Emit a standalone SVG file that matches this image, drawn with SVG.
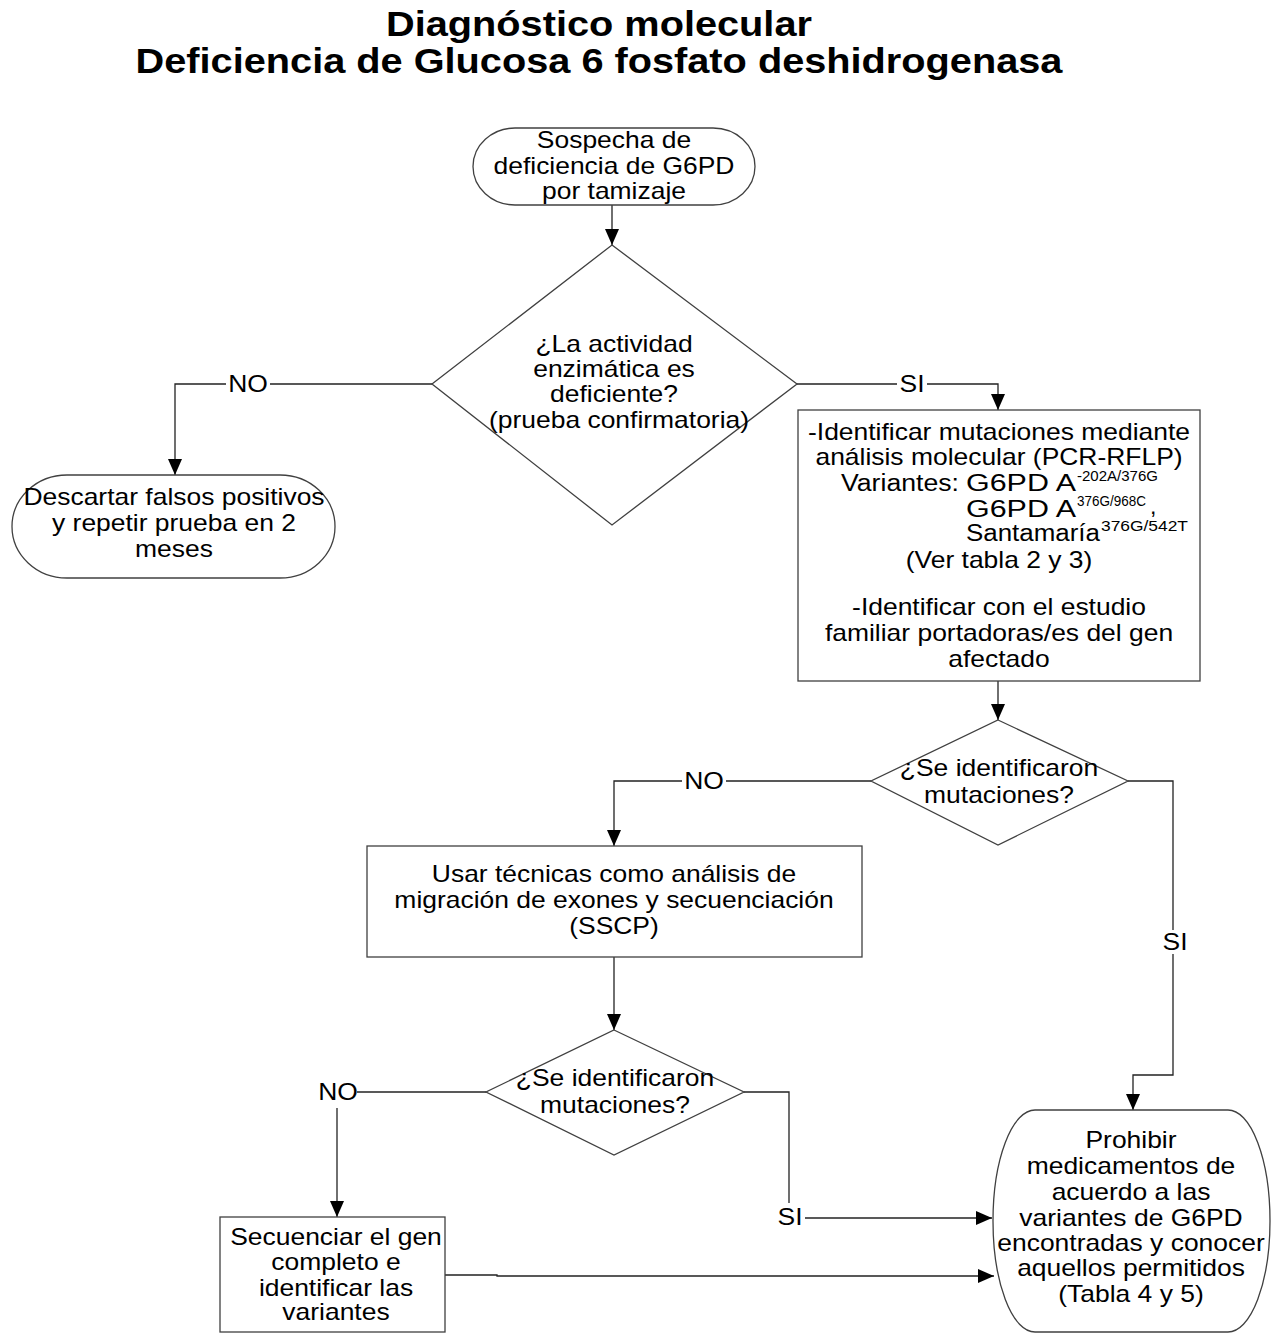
<svg xmlns="http://www.w3.org/2000/svg" width="1278" height="1342" viewBox="0 0 1278 1342">
<defs>
<marker id="arr" markerWidth="16" markerHeight="14" refX="16" refY="7" orient="auto" markerUnits="userSpaceOnUse">
<path d="M0,0 L16,7 L0,14 Z" fill="#000"/>
</marker>
<style>
.shape{fill:#fff;stroke:#404040;stroke-width:1.3}
.t{font-family:"Liberation Sans",Arial,sans-serif;font-size:23px;fill:#000;text-anchor:middle}
.ts{font-family:"Liberation Sans",Arial,sans-serif;font-size:23px;fill:#000;text-anchor:start}
.sup{font-family:"Liberation Sans",Arial,sans-serif;font-size:14px;fill:#000;text-anchor:start}
.title{font-family:"Liberation Sans",Arial,sans-serif;font-size:35px;font-weight:bold;fill:#000;text-anchor:middle}
.c{fill:none;stroke:#222;stroke-width:1.3}
</style>
</defs>
<rect width="1278" height="1342" fill="#fff"/>
<g id="title">
<text class="title" transform="translate(599,36) scale(1.135,1)">Diagnóstico molecular</text>
<text class="title" transform="translate(599,73) scale(1.135,1)">Deficiencia de Glucosa 6 fosfato deshidrogenasa</text>
</g>
<g id="connectors">
<path class="c" d="M612,205 V245" marker-end="url(#arr)"/>
<path class="c" d="M432,384 H175 V475" marker-end="url(#arr)"/>
<path class="c" d="M797,384 H998 V410" marker-end="url(#arr)"/>
<path class="c" d="M998,681 V720" marker-end="url(#arr)"/>
<path class="c" d="M871,781 H614 V846" marker-end="url(#arr)"/>
<path class="c" d="M1128,781 H1173 V1075 H1133 V1110" marker-end="url(#arr)"/>
<path class="c" d="M614,957 V1030" marker-end="url(#arr)"/>
<path class="c" d="M486,1092 H357"/>
<path class="c" d="M337,1108 V1217" marker-end="url(#arr)"/>
<path class="c" d="M744,1092 H789 V1203"/>
<path class="c" d="M805,1218 H992" marker-end="url(#arr)"/>
<path class="c" d="M445,1275 H497 V1276 H994" marker-end="url(#arr)"/>
<rect x="226" y="372" width="44" height="24" fill="#fff"/>
<text class="t" transform="translate(248,392) scale(1.15,1)">NO</text>
<rect x="897" y="372" width="30" height="24" fill="#fff"/>
<text class="t" transform="translate(912,392) scale(1.15,1)">SI</text>
<rect x="682" y="769" width="44" height="24" fill="#fff"/>
<text class="t" transform="translate(704,789) scale(1.15,1)">NO</text>
<rect x="1160" y="930" width="30" height="24" fill="#fff"/>
<text class="t" transform="translate(1175,950) scale(1.15,1)">SI</text>
<text class="t" transform="translate(338,1100) scale(1.15,1)">NO</text>
<text class="t" transform="translate(790,1225) scale(1.15,1)">SI</text>
</g>
<g id="start">
<rect class="shape" x="473" y="128" width="282" height="77" rx="42" ry="38.5"/>
<text class="t" transform="translate(614,148) scale(1.15,1)">Sospecha de</text>
<text class="t" transform="translate(614,174) scale(1.15,1)">deficiencia de G6PD</text>
<text class="t" transform="translate(614,199) scale(1.15,1)">por tamizaje</text>
</g>
<g id="decision1">
<polygon class="shape" points="612,245 797,384 612,525 432,384"/>
<text class="t" transform="translate(614,352) scale(1.15,1)">¿La actividad</text>
<text class="t" transform="translate(614,377) scale(1.15,1)">enzimática es</text>
<text class="t" transform="translate(614,402) scale(1.15,1)">deficiente?</text>
<text class="t" transform="translate(619,428) scale(1.15,1)">(prueba confirmatoria)</text>
</g>
<g id="discard">
<rect class="shape" x="12" y="475" width="323" height="103" rx="55" ry="51.5"/>
<text class="t" transform="translate(174,505) scale(1.15,1)">Descartar falsos positivos</text>
<text class="t" transform="translate(174,531) scale(1.15,1)">y repetir prueba en 2</text>
<text class="t" transform="translate(174,557) scale(1.15,1)">meses</text>
</g>
<g id="identify">
<rect class="shape" x="798" y="410" width="402" height="271"/>
<text class="t" transform="translate(999,440) scale(1.15,1)">-Identificar mutaciones mediante</text>
<text class="t" transform="translate(999,465) scale(1.15,1)">análisis molecular (PCR-RFLP)</text>
<text class="ts" x="841" y="491" textLength="118" lengthAdjust="spacingAndGlyphs">Variantes:</text>
<text class="ts" x="966" y="491" textLength="110" lengthAdjust="spacingAndGlyphs">G6PD A</text>
<text class="sup" x="1077" y="481" textLength="81" lengthAdjust="spacingAndGlyphs">-202A/376G</text>
<text class="ts" x="966" y="517" textLength="110" lengthAdjust="spacingAndGlyphs">G6PD A</text>
<text class="sup" x="1077" y="506" textLength="69" lengthAdjust="spacingAndGlyphs">376G/968C</text>
<text class="ts" x="1150" y="514">,</text>
<text class="ts" x="966" y="541" textLength="134" lengthAdjust="spacingAndGlyphs">Santamaría</text>
<text class="sup" x="1101" y="531" textLength="87" lengthAdjust="spacingAndGlyphs">376G/542T</text>
<text class="t" transform="translate(999,568) scale(1.15,1)">(Ver tabla 2 y 3)</text>
<text class="t" transform="translate(999,615) scale(1.15,1)">-Identificar con el estudio</text>
<text class="t" transform="translate(999,641) scale(1.15,1)">familiar portadoras/es del gen</text>
<text class="t" transform="translate(999,667) scale(1.15,1)">afectado</text>
</g>
<g id="decision2">
<polygon class="shape" points="998,720 1128,781 998,845 871,781"/>
<text class="t" transform="translate(999,776) scale(1.15,1)">¿Se identificaron</text>
<text class="t" transform="translate(999,803) scale(1.15,1)">mutaciones?</text>
</g>
<g id="techniques">
<rect class="shape" x="367" y="846" width="495" height="111"/>
<text class="t" transform="translate(614,882) scale(1.15,1)">Usar técnicas como análisis de</text>
<text class="t" transform="translate(614,908) scale(1.15,1)">migración de exones y  secuenciación</text>
<text class="t" transform="translate(614,934) scale(1.15,1)">(SSCP)</text>
</g>
<g id="decision3">
<polygon class="shape" points="614,1030 744,1092 614,1155 486,1092"/>
<text class="t" transform="translate(615,1086) scale(1.15,1)">¿Se identificaron</text>
<text class="t" transform="translate(615,1113) scale(1.15,1)">mutaciones?</text>
</g>
<g id="sequence">
<rect class="shape" x="220" y="1217" width="225" height="115"/>
<text class="t" transform="translate(336,1245) scale(1.15,1)">Secuenciar el gen</text>
<text class="t" transform="translate(336,1270) scale(1.15,1)">completo e</text>
<text class="t" transform="translate(336,1296) scale(1.15,1)">identificar las</text>
<text class="t" transform="translate(336,1320) scale(1.15,1)">variantes</text>
</g>
<g id="prohibit">
<path class="shape" d="M1035,1110 H1228 A42,111 0 0 1 1228,1332 H1035 A42,111 0 0 1 1035,1110 Z"/>
<text class="t" transform="translate(1131,1148) scale(1.15,1)">Prohibir</text>
<text class="t" transform="translate(1131,1174) scale(1.15,1)">medicamentos de</text>
<text class="t" transform="translate(1131,1200) scale(1.15,1)">acuerdo a las</text>
<text class="t" transform="translate(1131,1226) scale(1.15,1)">variantes de G6PD</text>
<text class="t" transform="translate(1131,1251) scale(1.15,1)">encontradas y conocer</text>
<text class="t" transform="translate(1131,1276) scale(1.15,1)">aquellos permitidos</text>
<text class="t" transform="translate(1131,1302) scale(1.15,1)">(Tabla  4 y 5)</text>
</g>
</svg>
